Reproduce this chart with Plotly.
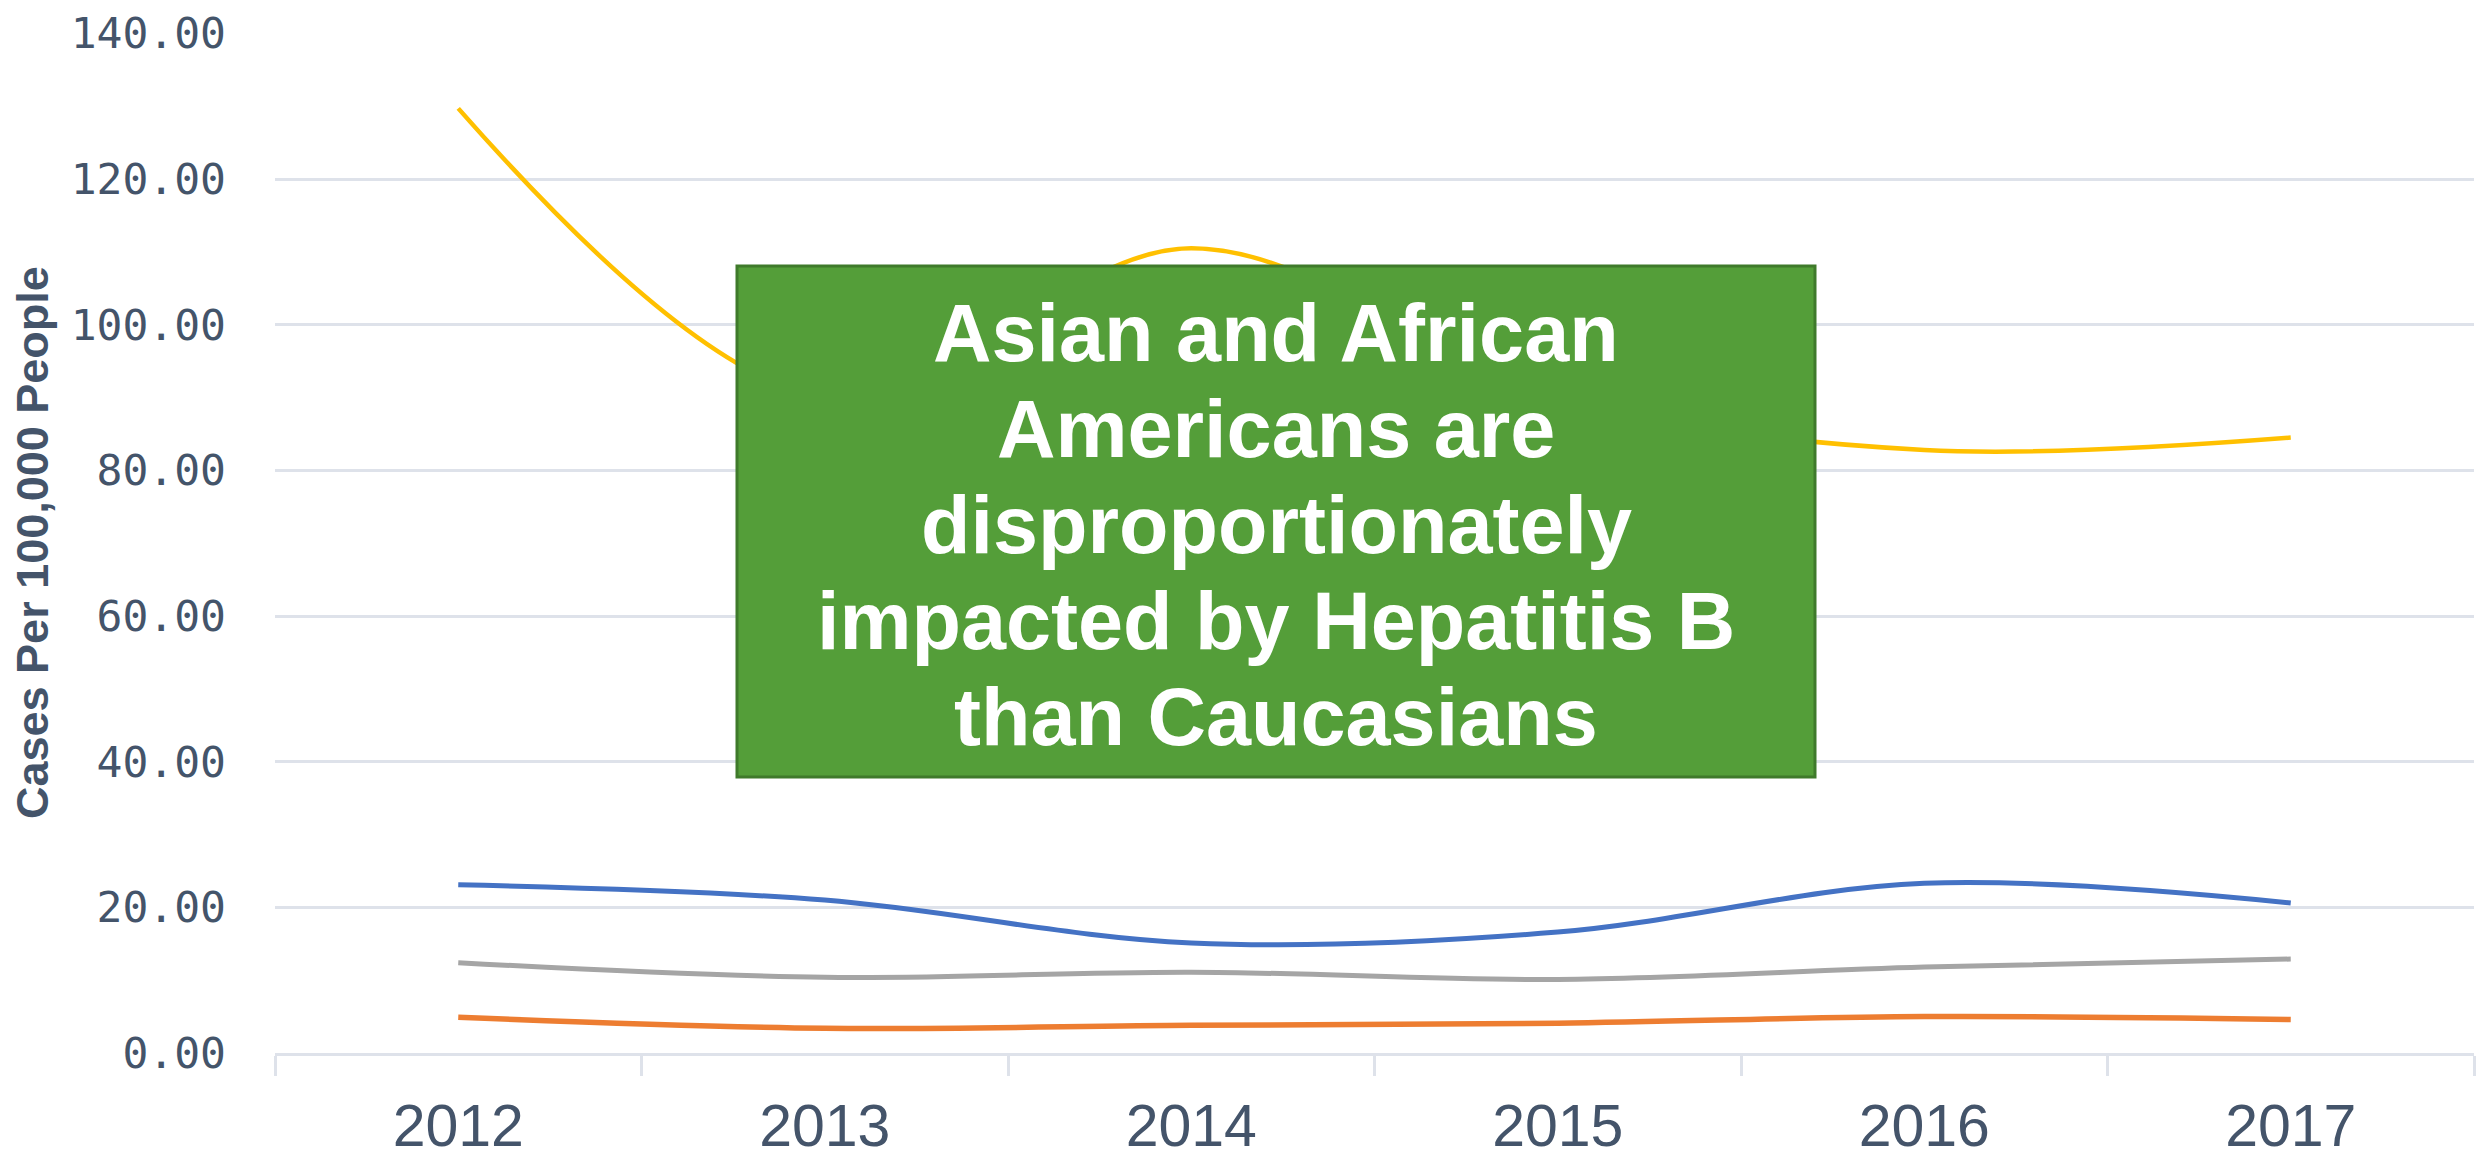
import plotly.graph_objects as go

# Reported years and rates (cases per 100,000 people)
years = ["2012", "2013", "2014", "2015", "2016", "2017"]
asian = [129.7, 90.0, 110.5, 90.0, 82.8, 84.5]
african_american = [23.1, 21.0, 15.1, 16.6, 23.3, 20.6]
hispanic = [12.4, 10.4, 11.1, 10.1, 11.8, 12.9]
caucasian = [4.9, 3.4, 3.8, 4.1, 5.0, 4.6]

y_ticks = [0, 20, 40, 60, 80, 100, 120, 140]
callout_lines = [
    "Asian and African",
    "Americans are",
    "disproportionately",
    "impacted by Hepatitis B",
    "than Caucasians",
]

AXIS_TEXT = "#44546A"
GRID = "#DEE2EA"

W, H = 2484, 1167
M_L, M_R, M_T, M_B = 275, 10, 33, 114
plot_w = W - M_L - M_R
plot_h = H - M_T - M_B


def px_x(x):
    return (x - M_L) / plot_w


def px_y(y):
    return (H - M_B - y) / plot_h


fig = go.Figure()
series = [
    ("Asian", asian, "#FFC000", 4.5),
    ("Caucasian", caucasian, "#ED7D31", 5.5),
    ("Hispanic", hispanic, "#A5A5A5", 5),
    ("African American", african_american, "#4472C4", 5),
]
for name, vals, color, width in series:
    fig.add_trace(go.Scatter(
        x=years, y=vals, name=name, mode="lines",
        line=dict(color=color, width=width, shape="spline", smoothing=1.0),
        hoverinfo="x+y+name",
    ))

# Green callout box drawn above the lines
fig.add_shape(
    type="rect", xref="paper", yref="paper",
    x0=px_x(737), x1=px_x(1815), y0=px_y(777), y1=px_y(266),
    fillcolor="#549E39", line=dict(color="#3F7A2B", width=3),
    layer="above",
)
line_centers = [333, 429, 525, 621, 717]
for txt, yc in zip(callout_lines, line_centers):
    fig.add_annotation(
        text=txt, xref="paper", yref="paper",
        x=px_x(1276), y=px_y(yc), xanchor="center", yanchor="middle",
        showarrow=False,
        font=dict(family="Liberation Sans, Arial, sans-serif", size=81,
                  color="white", weight="bold"),
    )

# Rotated y-axis caption
fig.add_annotation(
    text="<b>Cases Per 100,000 People</b>", xref="paper", yref="paper",
    x=px_x(32), y=0.5, xanchor="center", yanchor="middle",
    textangle=-90, showarrow=False,
    font=dict(family="Liberation Sans, Arial, sans-serif", size=45,
              color=AXIS_TEXT),
)

fig.update_layout(
    width=W, height=H,
    margin=dict(l=M_L, r=M_R, t=M_T, b=M_B, autoexpand=False),
    paper_bgcolor="white", plot_bgcolor="white",
    showlegend=False,
    xaxis=dict(
        type="category", range=[-0.5, 5.5], showgrid=False, zeroline=False,
        showline=True, linecolor=GRID, linewidth=2.5,
        ticks="outside", tickson="boundaries", ticklen=20,
        tickwidth=2.5, tickcolor=GRID,
        ticklabelstandoff=19,
        tickfont=dict(family="Liberation Sans, Arial, sans-serif", size=59,
                      color=AXIS_TEXT),
        automargin=False,
    ),
    yaxis=dict(
        range=[0, 140.05], tickvals=y_ticks, tickformat=".2f",
        showgrid=True, gridcolor=GRID, gridwidth=2.5,
        zeroline=False, showline=False, ticks="",
        ticklabelstandoff=48,
        tickfont=dict(family="DejaVu Sans Mono, monospace", size=43,
                      color=AXIS_TEXT),
        automargin=False,
    ),
)

fig.write_html("out.html")
